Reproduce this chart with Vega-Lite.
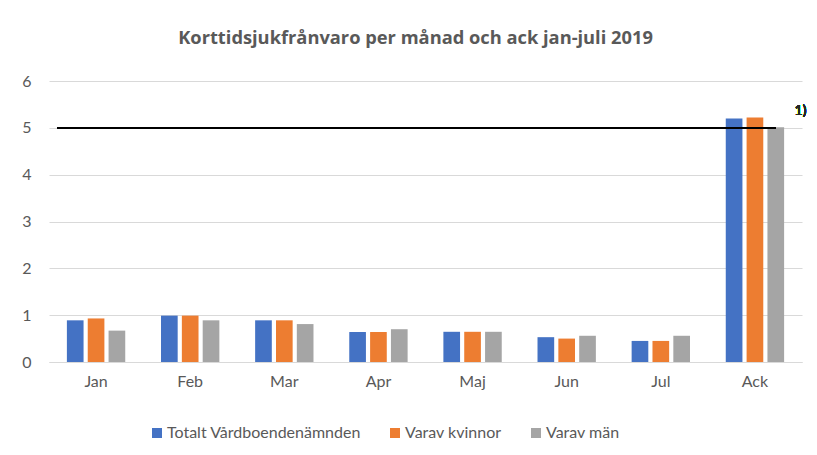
{
  "$schema": "https://vega.github.io/schema/vega-lite/v6.json",
  "autosize": "none",
  "width": 753,
  "height": 281,
  "padding": {"left": 49, "top": 81, "right": 15, "bottom": 93},
  "background": "white",
  "title": {
    "text": "Korttidsjukfrånvaro per månad och ack jan-juli 2019",
    "font": "Open Sans",
    "fontSize": 18.3,
    "fontWeight": "bold",
    "color": "#595959",
    "anchor": "middle",
    "dx": -10,
    "offset": 25
  },
  "config": {
    "view": {"stroke": null},
    "font": "Lato"
  },
  "data": {
    "values": [
      {"month": "Jan", "series": "Totalt Vårdboendenämnden", "value": 0.89},
      {"month": "Jan", "series": "Varav kvinnor", "value": 0.93},
      {"month": "Jan", "series": "Varav män", "value": 0.67},
      {"month": "Feb", "series": "Totalt Vårdboendenämnden", "value": 0.99},
      {"month": "Feb", "series": "Varav kvinnor", "value": 0.99},
      {"month": "Feb", "series": "Varav män", "value": 0.89},
      {"month": "Mar", "series": "Totalt Vårdboendenämnden", "value": 0.89},
      {"month": "Mar", "series": "Varav kvinnor", "value": 0.89},
      {"month": "Mar", "series": "Varav män", "value": 0.81},
      {"month": "Apr", "series": "Totalt Vårdboendenämnden", "value": 0.64},
      {"month": "Apr", "series": "Varav kvinnor", "value": 0.64},
      {"month": "Apr", "series": "Varav män", "value": 0.70},
      {"month": "Maj", "series": "Totalt Vårdboendenämnden", "value": 0.645},
      {"month": "Maj", "series": "Varav kvinnor", "value": 0.645},
      {"month": "Maj", "series": "Varav män", "value": 0.645},
      {"month": "Jun", "series": "Totalt Vårdboendenämnden", "value": 0.53},
      {"month": "Jun", "series": "Varav kvinnor", "value": 0.50},
      {"month": "Jun", "series": "Varav män", "value": 0.56},
      {"month": "Jul", "series": "Totalt Vårdboendenämnden", "value": 0.45},
      {"month": "Jul", "series": "Varav kvinnor", "value": 0.45},
      {"month": "Jul", "series": "Varav män", "value": 0.56},
      {"month": "Ack", "series": "Totalt Vårdboendenämnden", "value": 5.20},
      {"month": "Ack", "series": "Varav kvinnor", "value": 5.22},
      {"month": "Ack", "series": "Varav män", "value": 5.01}
    ]
  },
  "layer": [
    {
      "mark": {"type": "bar"},
      "encoding": {
        "x": {
          "field": "month",
          "type": "nominal",
          "scale": {"domain": ["Jan", "Feb", "Mar", "Apr", "Maj", "Jun", "Jul", "Ack"], "paddingInner": 0.38, "paddingOuter": 0.19},
          "axis": {
            "title": null,
            "labelAngle": 0,
            "labelFont": "Lato",
            "labelFontSize": 16,
            "labelColor": "#595959",
            "labelPadding": 11,
            "ticks": false,
            "domainColor": "#d9d9d9",
            "domainWidth": 1
          }
        },
        "xOffset": {
          "field": "series",
          "type": "nominal",
          "scale": {"domain": ["Totalt Vårdboendenämnden", "Varav kvinnor", "Varav män"], "paddingInner": 0.2}
        },
        "y": {
          "field": "value",
          "type": "quantitative",
          "scale": {"domain": [0, 6], "nice": false},
          "axis": {
            "title": null,
            "values": [0, 1, 2, 3, 4, 5, 6],
            "domain": false,
            "ticks": false,
            "labelFont": "Lato",
            "labelFontSize": 16,
            "labelColor": "#595959",
            "labelPadding": 18,
            "gridColor": "#d9d9d9",
            "gridWidth": 1
          }
        },
        "color": {
          "field": "series",
          "type": "nominal",
          "scale": {"domain": ["Totalt Vårdboendenämnden", "Varav kvinnor", "Varav män"], "range": ["#4472C4", "#ED7D31", "#A5A5A5"]},
          "legend": {
            "title": null,
            "orient": "none",
            "direction": "horizontal",
            "legendX": 100,
            "legendY": 344,
            "symbolType": "square",
            "symbolSize": 100,
            "symbolStrokeWidth": 0,
            "labelFont": "Lato",
            "labelFontSize": 16,
            "labelColor": "#595959",
            "labelLimit": 0,
            "columnPadding": 26,
            "labelOffset": 2
          }
        }
      }
    },
    {
      "mark": {"type": "rule", "color": "black", "strokeWidth": 1},
      "encoding": {
        "x": {"datum": "Jan", "bandPosition": -0.16},
        "x2": {"datum": "Ack", "bandPosition": 0.86},
        "y": {"datum": 5}
      }
    },
    {
      "mark": {"type": "text", "text": "1)", "font": "Lato", "fontSize": 14, "fontWeight": "normal", "color": "#262626", "align": "center", "baseline": "middle"},
      "encoding": {
        "x": {"datum": "Ack", "bandPosition": 1.28},
        "y": {"datum": 5.35}
      }
    }
  ]
}
